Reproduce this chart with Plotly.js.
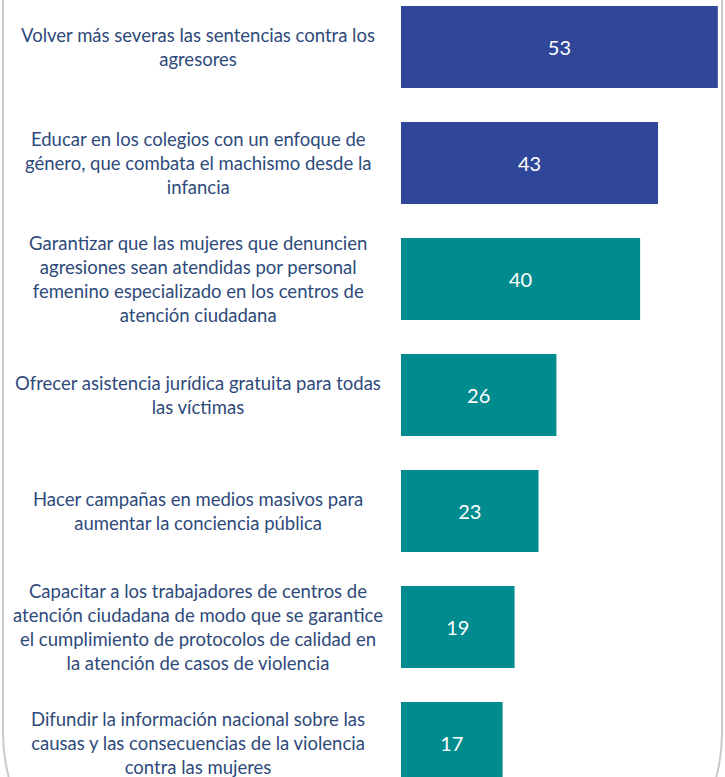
<!DOCTYPE html>
<html>
<head>
<meta charset="utf-8">
<script src="https://cdn.plot.ly/plotly-3.0.1.min.js"></script>
<style>html,body{margin:0;padding:0;background:#fff;}#chart{width:725px;height:777px;}</style>
</head>
<body>
<div id="chart"></div>
<script>
const categories = [
  "Volver más severas las sentencias contra los<br>agresores",
  "Educar en los colegios con un enfoque de<br>género, que combata el machismo desde la<br>infancia",
  "Garantizar que las mujeres que denuncien<br>agresiones sean atendidas por personal<br>femenino especializado en los centros de<br>atención ciudadana",
  "Ofrecer asistencia jurídica gratuita para todas<br>las víctimas",
  "Hacer campañas en medios masivos para<br>aumentar la conciencia pública",
  "Capacitar a los trabajadores de centros de<br>atención ciudadana de modo que se garantice<br>el cumplimiento de protocolos de calidad en<br>la atención de casos de violencia",
  "Difundir la información nacional sobre las<br>causas y las consecuencias de la violencia<br>contra las mujeres"
];
const values = [53, 43, 40, 26, 23, 19, 17];
const barColors = ["#2F4699", "#2F4699", "#008B8E", "#008B8E", "#008B8E", "#008B8E", "#008B8E"];

const W = 725, H = 777;
const px = v => v / W;
const py = v => 1 - v / H;

const trace = {
  type: "bar",
  orientation: "h",
  x: values,
  y: categories,
  marker: {color: barColors, line: {width: 0}},
  text: values.map(String),
  textposition: "inside",
  insidetextanchor: "middle",
  textfont: {family: "Lato, sans-serif", size: 20, color: "#ffffff"},
  hoverinfo: "none",
  cliponaxis: false
};

const annotations = categories.map((c, i) => ({
  xref: "paper", yref: "y",
  x: px(198), y: c,
  text: c,
  showarrow: false,
  xanchor: "center", yanchor: "middle",
  align: "center",
  font: {family: "Lato, sans-serif", size: 18.5, color: "#2E4A7A"}
}));

const r = 170;
const k = 0.5523 * r;
const L = 3, R = 722, T = -20, Yc = 733, B = Yc + r;
const path = `M ${px(L)},${py(T)} L ${px(L)},${py(Yc)} C ${px(L)},${py(Yc + k)} ${px(L + r - k)},${py(B)} ${px(L + r)},${py(B)} L ${px(R - r)},${py(B)} C ${px(R - r + k)},${py(B)} ${px(R)},${py(Yc + k)} ${px(R)},${py(Yc)} L ${px(R)},${py(T)}`;

const layout = {
  width: W, height: H,
  margin: {l: 0, r: 0, t: 0, b: 0},
  paper_bgcolor: "#ffffff",
  plot_bgcolor: "rgba(0,0,0,0)",
  showlegend: false,
  bargap: 0.293,
  xaxis: {domain: [401 / W, 1], range: [0, 54.2], autorange: false, visible: false, fixedrange: true},
  yaxis: {type: "category", categoryorder: "array", categoryarray: categories,
          range: [6.293, -0.405], autorange: false, visible: false, fixedrange: true},
  annotations: annotations,
  shapes: [{type: "path", xref: "paper", yref: "paper", path: path,
            line: {color: "#C9C9C9", width: 2}, layer: "below"}]
};

Plotly.newPlot("chart", [trace], layout, {displayModeBar: false, staticPlot: true});
</script>
</body>
</html>
